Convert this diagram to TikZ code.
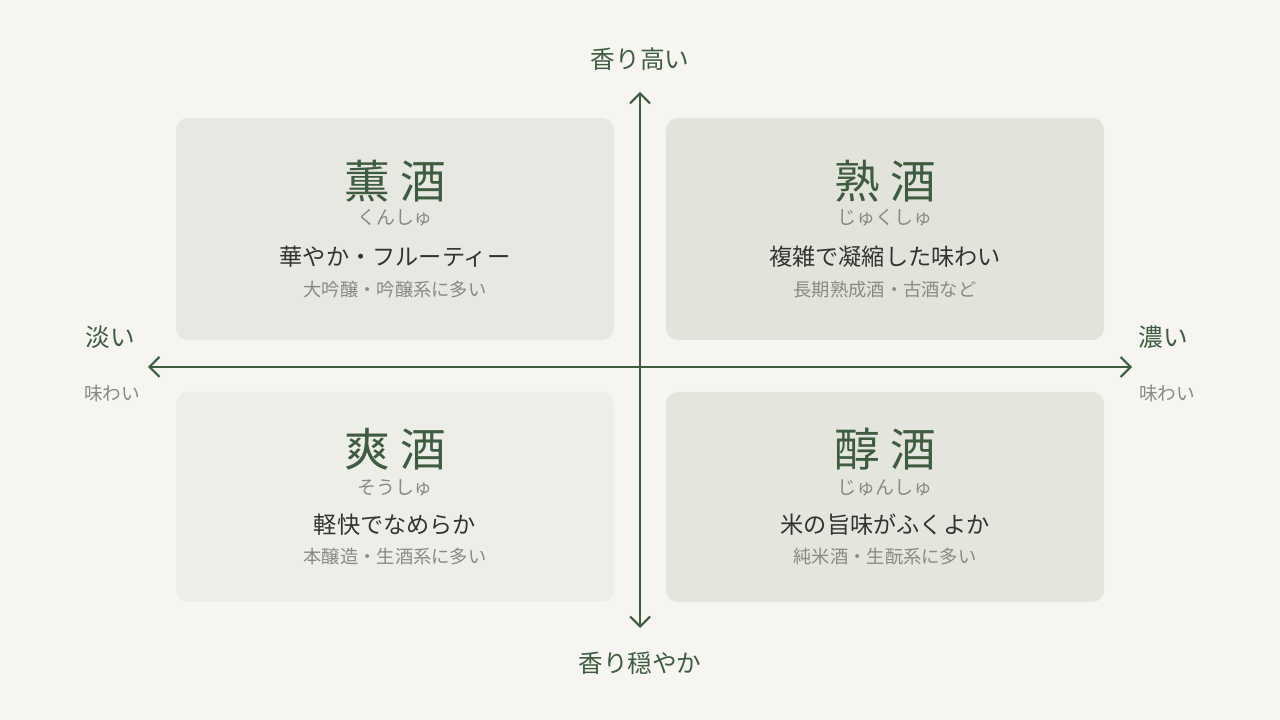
\documentclass[tikz,border=0pt]{standalone}
\usepackage{fontspec}
\newfontfamily\jp{Noto Sans CJK JP}
\usetikzlibrary{arrows.meta}
\definecolor{fond}{HTML}{F6F5F1}
\definecolor{vert}{HTML}{3E5C40}
\definecolor{encre}{HTML}{333333}
\definecolor{gris}{HTML}{8A8A85}
\definecolor{boiteA}{HTML}{E8E8E2}
\definecolor{boiteB}{HTML}{E2E4DC}
\definecolor{boiteC}{HTML}{EEEEE9}
\definecolor{boiteD}{HTML}{E4E5DD}
\tikzset{
  boite/.style={fill=#1, rounded corners=0.12cm},
  titre/.style={text=vert, font=\jp\fontsize{13}{13}\selectfont},
  lecture/.style={text=gris, font=\jp\fontsize{5.4}{5.4}\selectfont},
  descr/.style={text=encre, font=\jp\fontsize{6.6}{6.6}\selectfont},
  note/.style={text=gris, font=\jp\fontsize{5.2}{5.2}\selectfont},
  axe/.style={text=vert, font=\jp\fontsize{7}{7}\selectfont},
  sousaxe/.style={text=gris, font=\jp\fontsize{5.3}{5.3}\selectfont}
}
\begin{document}
\begin{tikzpicture}
\fill [fond] (0,0) rectangle (12.8,7.2); % Pour la bounding box

\fill [boite=boiteA] (1.76,3.80) rectangle (6.14,6.02);
\fill [boite=boiteB] (6.66,3.80) rectangle (11.04,6.02);
\fill [boite=boiteC] (1.76,1.18) rectangle (6.14,3.28);
\fill [boite=boiteD] (6.66,1.18) rectangle (11.04,3.28);

\coordinate (haut) at (6.40,6.28);
\coordinate (bas) at (6.40,0.92);
\coordinate (gauche) at (1.48,3.53);
\coordinate (droite) at (11.32,3.53);
\draw [vert, line width=0.6pt, {Straight Barb[length=1mm,width=2mm]}-{Straight Barb[length=1mm,width=2mm]}] (bas) -- (haut);
\draw [vert, line width=0.6pt, {Straight Barb[length=1mm,width=2mm]}-{Straight Barb[length=1mm,width=2mm]}] (gauche) -- (droite);

\node [axe] (hautlbl) at (6.40,6.61) {香り高い};
\node [axe] (baslbl) at (6.40,0.57) {香り穏やか};
\node [axe] (gauchelbl) at (1.10,3.83) {淡い};
\node [sousaxe] (gauchesub) at (1.12,3.27) {味わい};
\node [axe] (droitelbl) at (11.63,3.83) {濃い};
\node [sousaxe] (droitesub) at (11.67,3.27) {味わい};

\node [titre] (kun) at (3.95,5.39) {薫 酒};
\node [lecture] (kunr) at (3.95,5.02) {くんしゅ};
\node [descr] (kund) at (3.95,4.63) {華やか・フルーティー};
\node [note] (kunn) at (3.95,4.30) {大吟醸・吟醸系に多い};

\node [titre] (juku) at (8.85,5.39) {熟 酒};
\node [lecture] (jukur) at (8.85,5.02) {じゅくしゅ};
\node [descr] (jukud) at (8.85,4.63) {複雑で凝縮した味わい};
\node [note] (jukun) at (8.85,4.30) {長期熟成酒・古酒など};

\node [titre] (sou) at (3.95,2.71) {爽 酒};
\node [lecture] (sour) at (3.95,2.32) {そうしゅ};
\node [descr] (soud) at (3.95,1.95) {軽快でなめらか};
\node [note] (soun) at (3.95,1.63) {本醸造・生酒系に多い};

\node [titre] (jun) at (8.85,2.71) {醇 酒};
\node [lecture] (junr) at (8.85,2.32) {じゅんしゅ};
\node [descr] (jund) at (8.85,1.95) {米の旨味がふくよか};
\node [note] (junn) at (8.85,1.63) {純米酒・生酛系に多い};
\end{tikzpicture}
\end{document}
